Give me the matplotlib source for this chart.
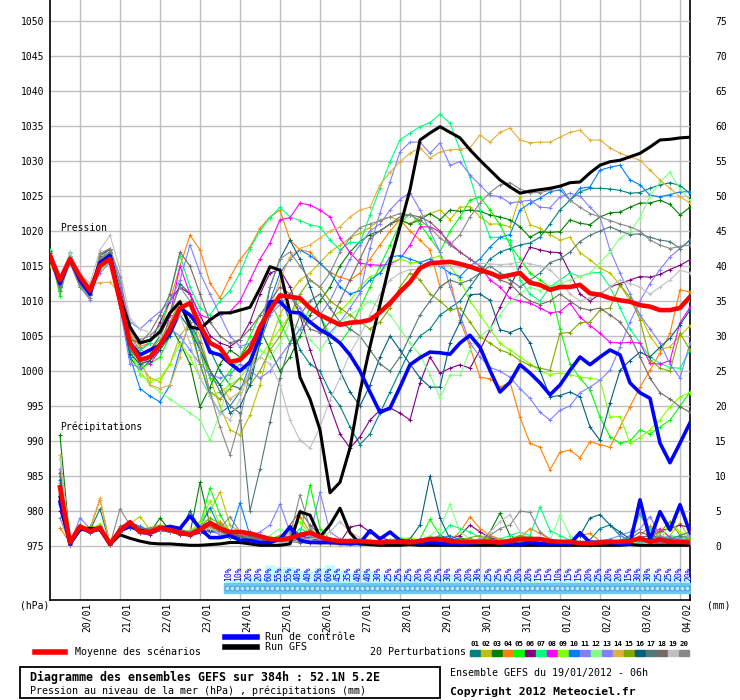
import numpy as np
import matplotlib.pyplot as plt
from matplotlib.patches import Rectangle
from matplotlib.lines import Line2D
import matplotlib.transforms as mtransforms

plt.rcParams['font.family'] = ['DejaVu Sans Mono', 'DejaVu Sans']

# pas de 6h depuis le 19/01/2012 06h (0 .. 384h)
steps = np.arange(65)
dates = ['20/01', '21/01', '22/01', '23/01', '24/01', '25/01', '26/01', '27/01',
         '28/01', '29/01', '30/01', '31/01', '01/02', '02/02', '03/02', '04/02']
date_steps = list(range(3, 64, 4))

# probabilite de precipitations (%) a partir du pas 18
pct_steps = list(range(18, 65))
pct = [10, 10, 20, 20, 60, 55, 55, 40, 40, 50, 60, 45, 35, 40, 40,
       30, 25, 25, 25, 20, 20, 25, 30, 20, 20, 30, 25, 25, 25, 20, 20,
       15, 15, 10, 15, 15, 20, 25, 20, 20, 15, 30, 30, 25, 25, 20, 20]

# moyenne / controle / GFS : pression (hPa)
mean_p = [1016.5, 1013.0, 1016.0, 1013.5, 1011.5, 1015.0, 1016.0, 1010.0, 1004.0, 1001.6,
          1002.0, 1003.7, 1006.0, 1009.0, 1009.7, 1006.5, 1004.0, 1003.3, 1001.3, 1001.6,
          1003.0, 1006.3, 1008.7, 1010.8, 1010.6, 1010.4, 1009.0, 1008.0, 1007.3, 1006.6,
          1006.9, 1007.0, 1007.3, 1008.4, 1009.7, 1011.3, 1012.7, 1014.7, 1015.4, 1015.5,
          1015.6, 1015.3, 1014.9, 1014.4, 1014.0, 1013.4, 1013.7, 1014.0, 1012.6, 1012.3,
          1011.6, 1012.0, 1012.0, 1012.3, 1011.1, 1010.9, 1010.4, 1010.1, 1009.9, 1009.4,
          1009.2, 1008.7, 1008.7, 1009.0, 1010.6]
ctrl_p = [1016.5, 1012.5, 1016.0, 1013.0, 1011.0, 1015.5, 1016.5, 1010.0, 1004.0, 1002.3,
          1003.0, 1003.7, 1005.4, 1009.0, 1008.0, 1006.3, 1002.7, 1002.3, 1001.1, 1000.0,
          1001.3, 1004.9, 1009.9, 1009.9, 1008.4, 1008.3, 1007.0, 1005.9, 1005.1, 1004.0,
          1002.3, 1000.0, 997.0, 994.1, 994.7, 997.7, 1000.9, 1001.9, 1002.7, 1002.6,
          1002.4, 1004.0, 1005.1, 1003.4, 1000.1, 997.0, 998.4, 1000.9, 999.7, 998.3,
          996.6, 998.0, 1000.1, 1002.0, 1000.9, 1002.0, 1003.0, 1002.3, 998.3, 996.9,
          996.1, 989.7, 986.9, 989.7, 992.6]
gfs_p = [1016.5, 1012.5, 1016.0, 1013.0, 1011.5, 1015.5, 1016.5, 1010.5, 1006.3, 1004.0,
         1004.4, 1005.6, 1008.3, 1009.9, 1006.3, 1006.0, 1007.3, 1008.3, 1008.3, 1008.7,
         1009.1, 1011.8, 1014.9, 1014.4, 1008.3, 999.1, 996.0, 991.6, 982.6, 984.1,
         989.0, 997.0, 1003.5, 1009.5, 1015.5, 1020.6, 1025.9, 1033.0, 1034.0, 1034.9,
         1034.1, 1033.3, 1031.6, 1030.1, 1028.7, 1027.3, 1026.3, 1025.4, 1025.7, 1025.9,
         1026.1, 1026.4, 1026.9, 1027.0, 1028.3, 1029.4, 1029.9, 1030.1, 1030.6, 1031.1,
         1032.0, 1033.0, 1033.1, 1033.3, 1033.4]

# precipitations (mm), pas 1 .. 64
mean_r = [8.4, 0.5, 2.8, 2.1, 2.6, 0.3, 2.2, 3.4, 2.0, 2.0,
          2.6, 2.3, 1.9, 1.6, 2.3, 3.3, 2.5, 2.0, 2.0, 1.8,
          1.4, 1.0, 0.9, 1.1, 1.6, 1.9, 1.3, 0.9, 0.7, 0.7,
          0.7, 0.6, 0.5, 0.6, 0.6, 0.5, 0.7, 1.0, 1.0, 0.7,
          0.6, 0.6, 0.6, 0.6, 0.5, 0.7, 1.0, 1.0, 1.0, 0.7,
          0.6, 0.6, 0.4, 0.4, 0.5, 0.6, 0.6, 0.7, 1.1, 0.6,
          0.9, 0.6, 0.6, 0.5]
ctrl_r = [6.3, 0.3, 2.5, 2.2, 2.4, 0.2, 2.2, 2.8, 2.2, 2.0,
          2.5, 2.8, 2.5, 4.3, 2.5, 1.2, 1.2, 1.5, 0.8, 0.8,
          0.5, 0.5, 1.0, 2.7, 0.8, 0.5, 0.5, 0.5, 0.4, 0.3,
          0.4, 2.2, 1.0, 2.0, 0.8, 0.6, 0.4, 0.5, 0.4, 0.3,
          0.3, 0.4, 0.5, 0.6, 0.4, 0.3, 0.2, 0.5, 0.3, 0.3,
          0.3, 0.3, 1.9, 0.5, 0.5, 0.5, 0.3, 0.3, 6.6, 0.9,
          4.9, 2.3, 5.9, 1.9]
gfs_r = [7.0, 0.3, 2.3, 2.5, 2.5, 0.2, 1.6, 1.1, 0.7, 0.4,
         0.3, 0.3, 0.2, 0.1, 0.1, 0.2, 0.3, 0.5, 0.5, 0.3,
         0.1, 0.1, 0.1, 0.3, 4.9, 4.4, 1.3, 3.0, 5.4, 1.9,
         0.3, 0.2, 0.1, 0.1, 0.1, 0.2, 0.1, 0.1, 0.1, 0.1,
         0.1, 0.1, 0.1, 0.1, 0.1, 0.1, 0.1, 0.1, 0.1, 0.1,
         0.1, 0.1, 0.1, 0.1, 0.1, 0.1, 0.1, 0.2, 0.1, 0.1,
         0.1, 0.1, 0.1, 0.1]

# 20 perturbations : pression
p01 = [1016.8, 1012.0, 1016.5, 1012.5, 1011.0, 1015.5, 1016.8, 1010.0,
       1004.0, 1002.5, 1003.0, 1005.0, 1008.0, 1012.5, 1011.0, 1006.0, 1003.0, 1000.0, 998.0, 997.5, 999.0,
       1004.0, 1008.0, 1011.0, 1007.0, 1003.0, 1001.0, 1000.0, 997.0, 995.0, 992.0, 989.5, 991.0,
       994.0, 997.0, 1000.0, 1003.0, 1005.0, 1006.0, 1008.0, 1009.0, 1010.0, 1012.0, 1014.0, 1016.0,
       1017.0, 1017.5, 1018.0, 1018.3, 1019.1, 1021.0, 1023.0, 1024.4, 1025.6, 1026.1, 1026.1, 1026.0,
       1025.8, 1025.4, 1025.5, 1026.1, 1026.6, 1026.9, 1026.5, 1025.4]
p02 = [1016.3, 1012.8, 1016.2, 1013.5, 1011.5, 1015.0, 1016.0, 1011.0,
       1005.0, 1001.0, 999.0, 998.5, 1001.0, 1005.0, 1007.0, 1004.0, 999.0, 995.0, 991.6, 990.9, 993.7,
       998.0, 1004.0, 1008.0, 1011.0, 1013.0, 1014.0, 1015.5, 1017.0, 1018.0, 1019.0, 1019.7, 1020.5,
       1021.6, 1022.0, 1021.5, 1021.0, 1022.0, 1022.5, 1023.0, 1021.6, 1023.4, 1023.5, 1022.0, 1021.0,
       1021.0, 1020.6, 1024.9, 1020.9, 1020.4, 1019.5, 1018.7, 1019.1, 1016.9, 1015.9, 1014.7, 1014.0,
       1012.3, 1010.0, 1008.0, 1005.0, 1003.0, 1003.5, 1005.0, 1006.5]
p03 = [1017.2, 1011.5, 1016.8, 1012.0, 1011.5, 1016.0, 1017.0, 1009.5,
       1002.0, 1000.0, 1001.5, 1004.0, 1006.5, 1004.0, 1001.0, 994.9, 997.7, 1001.0, 1003.0, 1002.0, 1004.0,
       1006.0, 1003.0, 1000.0, 1002.0, 1005.0, 1008.0, 1010.0, 1012.0, 1015.0, 1017.0, 1018.5, 1019.5,
       1020.0, 1021.0, 1021.6, 1021.0, 1021.6, 1022.5, 1021.6, 1023.0, 1022.8, 1023.0, 1022.8, 1022.3,
       1022.0, 1021.6, 1020.6, 1019.1, 1019.9, 1019.8, 1019.9, 1021.6, 1021.1, 1020.9, 1022.0, 1022.6,
       1022.7, 1023.4, 1024.0, 1024.0, 1024.4, 1023.8, 1022.3, 1023.4]
p04 = [1016.0, 1012.5, 1015.8, 1013.5, 1012.0, 1015.5, 1016.5, 1011.5,
       1005.5, 1003.5, 1004.0, 1006.0, 1010.0, 1015.0, 1019.4, 1017.3, 1012.6, 1010.4, 1013.4, 1015.9, 1017.7,
       1020.4, 1022.0, 1023.0, 1018.7, 1017.3, 1017.0, 1015.4, 1014.1, 1013.4, 1013.0, 1014.0, 1016.0,
       1018.0, 1020.0, 1021.6, 1020.0, 1018.7, 1017.3, 1012.0, 1013.0, 1007.3, 1003.4, 999.1, 998.9,
       997.7, 998.4, 993.4, 989.7, 989.1, 985.9, 988.4, 988.7, 987.6, 989.9, 989.5, 989.1,
       992.0, 994.9, 997.7, 1000.1, 1002.6, 1005.4, 1011.6, 1011.3]
p05 = [1017.0, 1010.7, 1016.5, 1012.0, 1010.5, 1016.0, 1017.0, 1012.0,
       1003.0, 1000.5, 1001.0, 1002.0, 1005.0, 1009.0, 1007.0, 1003.0, 999.0, 998.0, 1000.0, 1002.0, 1005.0,
       1008.0, 1010.0, 1007.0, 1004.0, 1006.0, 1009.0, 1008.0, 1005.0, 1004.0, 1006.0, 1009.0, 1012.0,
       1015.0, 1018.0, 1021.0, 1022.5, 1021.0, 1019.0, 1017.0, 1020.0, 1022.0, 1024.4, 1024.9, 1023.0,
       1020.9, 1018.0, 1016.0, 1014.0, 1013.0, 1012.0, 1006.0, 1001.0, 999.0, 997.3, 993.4, 990.6,
       989.7, 990.0, 991.6, 991.0, 992.0, 993.0, 995.0, 997.0]
p06 = [1016.5, 1013.0, 1016.0, 1013.5, 1011.0, 1016.5, 1017.5, 1012.5,
       1005.0, 1003.0, 1004.0, 1007.0, 1010.0, 1012.0, 1011.0, 1008.0, 1005.0, 1004.0, 1003.5, 1004.5, 1007.0,
       1011.0, 1014.0, 1014.5, 1012.0, 1008.0, 1003.0, 999.0, 995.0, 991.0, 989.0, 990.6, 993.0,
       994.4, 994.7, 994.0, 993.0, 998.3, 1002.0, 999.7, 1000.4, 1000.9, 1000.4, 1003.0, 1005.9,
       1009.1, 1012.0, 1015.0, 1017.7, 1017.3, 1017.0, 1016.9, 1014.0, 1011.0, 1010.0, 1011.0, 1012.0,
       1012.5, 1013.0, 1013.5, 1013.4, 1013.8, 1014.5, 1015.1, 1015.9]
p07 = [1017.3, 1011.5, 1017.0, 1012.5, 1011.0, 1015.0, 1016.0, 1011.0,
       1005.0, 1003.0, 1004.0, 1006.0, 1011.0, 1016.5, 1012.0, 1009.0, 1008.0, 1010.0, 1011.5, 1014.0, 1017.5,
       1020.0, 1021.9, 1023.4, 1022.0, 1021.5, 1020.9, 1020.6, 1018.7, 1017.3, 1018.4, 1018.3, 1022.3,
       1026.1, 1029.9, 1033.0, 1034.0, 1034.9, 1035.5, 1036.7, 1035.4, 1031.6, 1027.7, 1023.0, 1019.1,
       1019.1, 1018.7, 1013.0, 1011.0, 1010.0, 1012.0, 1013.0, 1014.0, 1013.5, 1014.0, 1014.1, 1012.0,
       1009.0, 1006.0, 1004.0, 1002.0, 1001.1, 1000.5, 1000.4, 1003.0]
p08 = [1016.5, 1013.5, 1016.0, 1013.0, 1011.5, 1015.5, 1016.0, 1011.5,
       1006.0, 1002.0, 1001.0, 1003.0, 1008.0, 1015.0, 1011.0, 1008.0, 1007.5, 1008.0, 1008.5, 1010.0, 1013.0,
       1016.0, 1018.3, 1021.6, 1021.9, 1024.0, 1023.7, 1023.0, 1022.0, 1019.0, 1016.9, 1015.4, 1015.2,
       1015.1, 1015.3, 1016.0, 1018.0, 1020.6, 1020.6, 1019.9, 1018.3, 1017.0, 1016.0, 1015.0, 1013.0,
       1012.0, 1010.4, 1010.0, 1009.7, 1009.0, 1008.3, 1008.5, 1009.7, 1007.7, 1006.5, 1005.4, 1004.1,
       1004.0, 1004.1, 1004.0, 1001.1, 1001.0, 1001.5, 1006.9, 1009.1]
p09 = [1016.0, 1012.0, 1015.5, 1012.5, 1011.0, 1014.5, 1015.5, 1010.5,
       1003.0, 999.5, 998.5, 999.0, 1001.0, 1004.0, 1002.0, 999.0, 996.5, 997.0, 998.0, 999.0, 1001.0,
       1002.0, 1004.0, 1006.0, 1008.0, 1010.0, 1009.0, 1008.0, 1007.5, 1008.5, 1010.0, 1012.0, 1013.5,
       1014.0, 1015.5, 1016.0, 1015.5, 1015.5, 1016.0, 1016.5, 1015.0, 1013.0, 1010.0, 1008.0, 1006.0,
       1004.0, 1003.0, 1002.0, 1001.0, 1000.0, 999.5, 999.7, 999.5, 999.1, 999.0, 998.7, 993.4,
       993.5, 989.7, 990.5, 991.6, 993.0, 994.9, 996.3, 996.9]
p10 = [1016.2, 1012.2, 1016.0, 1012.5, 1010.8, 1015.8, 1016.5, 1011.0,
       1002.0, 997.5, 996.4, 995.6, 998.0, 1003.0, 1007.0, 1001.0, 996.5, 994.0, 995.0, 997.0, 1001.0,
       1006.0, 1010.0, 1014.0, 1016.0, 1017.3, 1016.5, 1015.4, 1014.0, 1012.0, 1011.0, 1011.5, 1013.0,
       1014.0, 1016.3, 1016.5, 1016.0, 1015.5, 1016.0, 1015.0, 1014.0, 1013.5, 1015.0, 1016.0, 1017.7,
       1019.1, 1019.5, 1023.0, 1024.0, 1024.7, 1025.6, 1025.9, 1024.4, 1026.1, 1026.3, 1028.7, 1029.1,
       1029.4, 1027.3, 1026.6, 1025.1, 1024.9, 1025.2, 1025.6, 1025.6]
p11 = [1016.0, 1013.0, 1015.5, 1012.0, 1010.2, 1016.0, 1017.5, 1012.5,
       1007.0, 1006.0, 1007.3, 1008.5, 1010.0, 1013.0, 1018.0, 1014.0, 1011.0, 1008.0, 1005.0, 1003.5, 1004.0,
       1006.0, 1008.0, 1009.5, 1011.0, 1009.0, 1007.0, 1006.0, 1005.5, 1007.0, 1009.0, 1011.1, 1017.6,
       1022.6, 1027.0, 1031.3, 1032.7, 1032.7, 1031.1, 1032.6, 1029.4, 1029.9, 1028.0, 1026.6, 1025.1,
       1024.9, 1024.0, 1024.2, 1024.4, 1023.4, 1023.3, 1024.9, 1025.4, 1025.0, 1023.4, 1022.0, 1017.3,
       1014.0, 1011.0, 1008.0, 1006.0, 1004.0, 1001.0, 999.0, 1004.0]
p12 = [1016.8, 1012.0, 1016.2, 1013.3, 1011.8, 1015.0, 1016.0, 1010.0,
       1003.5, 1000.0, 998.0, 997.0, 996.0, 995.0, 994.0, 993.0, 990.1, 994.0, 999.0, 1002.0, 1002.5,
       1003.0, 1002.0, 1004.0, 1007.0, 1006.0, 1004.5, 1003.0, 1005.0, 1007.0, 1008.0, 1009.0, 1010.0,
       1009.0, 1008.0, 1006.0, 1004.0, 1002.3, 999.5, 996.1, 999.4, 999.4, 1003.0, 1005.0, 1006.0,
       1008.0, 1010.0, 1011.0, 1012.0, 1011.5, 1012.0, 1012.5, 1013.0, 1013.5, 1014.0, 1015.5, 1017.0,
       1019.0, 1019.9, 1021.9, 1025.0, 1027.0, 1028.4, 1026.0, 1024.4]
p13 = [1016.3, 1012.3, 1016.5, 1013.0, 1011.5, 1014.0, 1015.5, 1009.0,
       1001.0, 1000.5, 1002.0, 1004.0, 1006.0, 1005.0, 1003.0, 1001.0, 999.5, 999.0, 999.5, 1001.0, 1000.0,
       999.0, 1000.0, 1002.0, 1004.0, 1006.0, 1007.0, 1008.0, 1010.0, 1013.0, 1016.0, 1018.0, 1020.0,
       1021.0, 1023.0, 1024.5, 1025.5, 1023.0, 1020.0, 1017.0, 1012.0, 1008.0, 1004.0, 1002.0, 1000.5,
       1000.0, 999.1, 997.5, 996.1, 994.1, 993.0, 994.4, 995.0, 996.9, 997.7, 998.7, 1000.1,
       1003.4, 1007.0, 1010.0, 1012.5, 1014.5, 1016.3, 1017.5, 1018.7]
p14 = [1015.0, 1013.0, 1015.5, 1013.5, 1012.5, 1012.6, 1012.7, 1011.0,
       1006.0, 1002.0, 998.0, 997.5, 998.0, 1002.0, 1008.0, 1005.0, 1000.0, 998.0, 996.0, 997.0, 1000.0,
       1004.0, 1009.0, 1013.0, 1016.3, 1017.5, 1018.0, 1019.0, 1020.0, 1020.6, 1022.0, 1023.0, 1023.4,
       1026.6, 1028.4, 1029.9, 1031.1, 1031.9, 1030.4, 1031.3, 1031.6, 1031.7, 1031.9, 1033.7, 1032.7,
       1034.1, 1034.7, 1033.0, 1032.6, 1032.7, 1032.7, 1033.4, 1034.1, 1034.4, 1033.0, 1033.0, 1031.9,
       1031.1, 1030.6, 1030.1, 1028.7, 1027.3, 1026.1, 1024.9, 1024.0]
p15 = [1016.6, 1012.7, 1016.0, 1013.2, 1011.2, 1015.8, 1016.8, 1010.5,
       1004.0, 1002.0, 1003.0, 1004.5, 1007.0, 1010.0, 1006.0, 1001.0, 997.0, 996.0, 997.5, 999.0, 998.0,
       1000.0, 1003.0, 1005.0, 1008.0, 1011.0, 1013.0, 1012.0, 1010.0, 1009.0, 1008.0, 1007.0, 1006.0,
       1007.0, 1009.0, 1012.0, 1014.0, 1013.0, 1011.0, 1010.0, 1008.7, 1009.0, 1007.0, 1004.9, 1004.0,
       1003.0, 1002.5, 1001.5, 1000.8, 1000.4, 1000.1, 1005.4, 1005.5, 1006.9, 1007.0, 1008.7, 1009.0,
       1012.3, 1010.5, 1007.3, 1001.6, 1000.4, 1000.0, 1005.4, 1003.0]
p16 = [1016.0, 1012.0, 1016.3, 1012.8, 1011.0, 1015.2, 1016.2, 1010.0,
       1002.5, 1001.0, 1001.5, 1003.0, 1005.0, 1008.0, 1006.0, 1003.0, 1000.0, 998.0, 994.0, 995.0, 998.0,
       1004.0, 1012.0, 1016.0, 1018.7, 1016.0, 1012.0, 1008.0, 1004.0, 1000.0, 997.0, 995.0, 998.0,
       1002.0, 1005.0, 1003.0, 1001.0, 999.0, 997.7, 997.7, 1004.0, 1007.0, 1010.9, 1011.0, 1010.1,
       1005.9, 1005.5, 1006.1, 1004.0, 1000.0, 996.3, 996.5, 997.0, 996.3, 992.0, 990.1, 995.4,
       1000.1, 1001.5, 1002.7, 1002.0, 1003.4, 1004.7, 1006.6, 1008.7]
p17 = [1016.4, 1012.4, 1015.8, 1012.3, 1010.8, 1015.3, 1017.0, 1011.0,
       1003.0, 1001.5, 1002.0, 1004.0, 1006.0, 1009.0, 1007.0, 1004.0, 1000.0, 997.0, 995.0, 994.0, 980.0,
       986.0, 992.7, 999.0, 1004.0, 1008.0, 1010.0, 1011.0, 1009.0, 1007.0, 1006.0, 1005.0, 1003.0,
       1001.0, 1000.0, 1002.0, 1005.0, 1008.0, 1010.0, 1012.0, 1013.0, 1012.5, 1013.0, 1014.0, 1015.0,
       1014.0, 1013.0, 1012.0, 1013.0, 1014.0, 1015.5, 1016.0, 1017.0, 1018.5, 1019.4, 1020.0, 1020.6,
       1020.0, 1019.5, 1019.6, 1019.1, 1018.7, 1018.5, 1017.5, 1018.7]
p18 = [1016.9, 1012.2, 1016.3, 1012.7, 1011.0, 1016.5, 1017.3, 1010.5,
       1004.5, 1004.0, 1005.5, 1008.0, 1011.0, 1017.0, 1015.0, 1011.0, 1007.0, 1005.0, 1004.0, 1004.5, 1006.0,
       1008.0, 1010.0, 1012.0, 1011.0, 1008.0, 1006.0, 1005.5, 1007.0, 1010.0, 1013.0, 1016.0, 1019.0,
       1020.0, 1021.0, 1022.0, 1022.3, 1022.0, 1021.3, 1020.0, 1018.0, 1017.0, 1016.0, 1015.0, 1014.0,
       1013.0, 1012.5, 1011.0, 1010.0, 1009.5, 1010.0, 1011.0, 1010.0, 1009.0, 1008.7, 1009.0, 1008.0,
       1007.0, 1005.0, 1002.0, 999.0, 996.9, 996.0, 994.9, 994.1]
p19 = [1016.5, 1013.5, 1016.8, 1014.0, 1012.5, 1017.3, 1019.4, 1014.5,
       1007.5, 1006.0, 1005.5, 1005.0, 1006.0, 1008.0, 1004.0, 999.0, 996.5, 994.0, 993.0, 996.0, 1000.0,
       1002.0, 1001.0, 998.0, 993.0, 990.1, 989.0, 992.0, 995.9, 999.0, 1002.6, 1005.0, 1008.0,
       1011.0, 1013.0, 1014.0, 1014.5, 1014.5, 1015.0, 1015.2, 1015.0, 1014.8, 1015.0, 1015.4, 1015.3,
       1015.2, 1015.3, 1015.6, 1015.3, 1015.0, 1014.5, 1013.0, 1011.0, 1010.0, 1010.5, 1011.0, 1012.0,
       1013.0, 1012.5, 1012.0, 1011.0, 1012.0, 1013.0, 1014.4, 1014.0]
p20 = [1016.0, 1011.5, 1015.5, 1012.0, 1010.5, 1016.8, 1017.5, 1013.5,
       1006.0, 1004.5, 1005.0, 1006.5, 1008.5, 1012.0, 1010.0, 1003.0, 997.0, 992.0, 988.0, 993.0, 1000.0,
       1006.0, 1012.0, 1016.0, 1017.0, 1015.0, 1013.0, 1012.0, 1014.0, 1017.0, 1019.0, 1020.5, 1021.0,
       1021.5, 1022.0, 1022.5, 1022.3, 1021.5, 1020.5, 1019.0, 1018.0, 1019.5, 1022.0, 1024.0, 1025.5,
       1026.6, 1026.9, 1026.0, 1025.5, 1025.5, 1025.8, 1026.5, 1024.4, 1023.4, 1022.5, 1022.0, 1021.5,
       1021.0, 1020.6, 1020.0, 1018.7, 1018.0, 1017.5, 1017.8, 1018.0]

# 20 perturbations : precipitations (mm), pas 1 .. 64
r01 = [10.5, 0.3, 2.6, 2.2, 5.3, 0.2, 2.4, 3.0, 2.2, 2.0, 2.8, 2.4, 2.0, 1.8, 2.6, 3.0,
       2.2, 1.8, 1.5, 1.2, 0.9, 0.6, 0.8, 1.0, 1.4, 1.2, 0.9, 0.6, 0.5, 0.4, 0.3, 0.4,
       0.6, 0.8, 0.5, 0.4, 0.6, 0.9, 0.8, 0.5, 0.4, 0.6, 0.7, 0.5, 0.4, 0.3, 0.5, 0.8,
       0.7, 0.5, 0.4, 0.3, 0.4, 0.9, 2.5, 3.0, 1.5, 0.8, 0.6, 0.5, 0.4, 0.6, 0.8, 0.5]
r02 = [9.0, 0.4, 2.9, 2.0, 3.0, 0.3, 2.5, 3.2, 4.2, 2.3, 2.5, 2.2, 2.4, 1.9, 3.5, 5.0,
       7.7, 3.0, 2.0, 1.0, 0.8, 0.7, 0.6, 0.9, 1.3, 1.0, 0.7, 0.5, 0.6, 0.8, 0.5, 0.4,
       0.3, 0.5, 0.7, 0.6, 0.4, 0.5, 0.6, 1.0, 0.8, 0.6, 0.5, 1.5, 0.9, 0.6, 0.4, 0.3,
       0.5, 0.7, 0.6, 0.4, 0.3, 0.5, 0.6, 0.4, 0.3, 0.5, 0.8, 0.7, 0.5, 1.5, 3.3, 1.0]
r03 = [15.8, 0.5, 2.4, 2.6, 2.2, 0.1, 2.0, 2.7, 2.5, 1.9, 4.0, 2.2, 2.0, 1.8, 9.1, 3.0,
       1.5, 1.2, 0.8, 0.6, 0.4, 0.5, 0.7, 0.6, 1.0, 2.2, 1.5, 0.8, 0.4, 0.3, 0.2, 0.3,
       0.5, 0.4, 0.6, 0.8, 0.5, 0.4, 0.3, 0.6, 1.2, 0.8, 0.6, 2.0, 4.7, 1.5, 0.8, 0.6,
       0.5, 0.7, 0.5, 0.4, 0.3, 0.2, 0.4, 0.5, 0.3, 0.6, 0.8, 1.2, 0.7, 0.5, 0.4, 0.6]
r04 = [2.6, 0.4, 3.0, 2.4, 6.6, 0.2, 2.2, 2.9, 1.8, 2.0, 2.6, 2.4, 1.7, 2.3, 2.5, 2.8,
       3.5, 2.0, 1.4, 1.0, 0.8, 0.6, 1.1, 1.8, 4.2, 2.0, 1.0, 0.7, 0.5, 0.4, 0.6, 0.5,
       0.4, 0.3, 0.5, 0.4, 0.3, 0.6, 1.0, 0.8, 2.0, 4.2, 2.5, 1.5, 1.0, 0.8, 1.2, 2.5,
       1.8, 0.9, 0.6, 0.5, 1.5, 1.8, 0.7, 0.5, 0.4, 0.6, 1.5, 2.8, 1.2, 0.8, 1.0, 0.6]
r05 = [8.0, 0.3, 2.7, 2.3, 2.5, 0.3, 2.6, 3.5, 2.0, 2.4, 2.7, 2.5, 2.2, 1.6, 3.0, 8.3,
       4.5, 2.0, 1.2, 0.8, 0.6, 0.5, 0.6, 1.0, 1.5, 8.7, 2.5, 1.0, 0.6, 0.5, 0.4, 0.3,
       0.3, 0.4, 0.6, 0.5, 1.0, 3.8, 1.5, 0.8, 0.6, 1.0, 0.7, 0.5, 0.6, 0.8, 1.5, 1.0,
       0.6, 0.4, 0.3, 0.3, 0.4, 0.6, 0.5, 0.4, 0.3, 0.4, 0.5, 0.6, 0.8, 1.2, 0.7, 1.0]
r06 = [5.0, 0.2, 2.4, 1.8, 2.3, 0.1, 2.0, 3.0, 1.8, 1.6, 2.2, 2.0, 1.6, 1.5, 1.8, 2.2,
       1.8, 1.4, 2.2, 2.0, 1.5, 1.0, 1.2, 2.8, 1.6, 1.0, 0.8, 0.6, 0.5, 2.7, 3.0, 2.0,
       1.2, 0.8, 0.6, 0.5, 0.6, 0.9, 1.5, 1.0, 1.5, 3.0, 2.0, 1.2, 0.8, 0.6, 0.4, 0.5,
       0.6, 0.8, 0.6, 0.4, 0.3, 0.5, 0.4, 0.3, 0.5, 0.6, 0.4, 1.0, 2.2, 2.5, 3.0, 2.6]
r07 = [9.0, 0.3, 2.5, 2.6, 2.4, 0.2, 2.3, 3.0, 2.0, 2.1, 2.4, 2.6, 2.3, 1.9, 2.5, 3.2,
       2.4, 1.8, 1.4, 1.5, 1.0, 0.8, 0.7, 1.0, 2.5, 1.8, 1.0, 0.8, 0.6, 0.5, 0.4, 0.5,
       0.6, 0.8, 1.2, 0.9, 0.6, 0.8, 1.5, 3.0, 2.5, 2.0, 1.2, 0.8, 1.0, 1.5, 2.0, 1.5,
       5.6, 2.2, 1.5, 0.8, 0.6, 0.5, 0.7, 0.6, 0.8, 1.5, 4.5, 2.5, 1.0, 1.5, 1.2, 1.0]
r08 = [6.0, 0.4, 2.6, 2.2, 2.8, 0.2, 2.6, 3.1, 2.3, 2.5, 2.3, 2.4, 2.1, 1.8, 2.8, 3.5,
       2.2, 1.6, 1.2, 1.0, 0.8, 1.2, 0.9, 0.7, 1.0, 1.3, 0.8, 0.6, 0.5, 0.4, 0.5, 0.4,
       0.3, 0.5, 0.6, 0.5, 0.4, 0.6, 0.8, 0.6, 0.5, 0.4, 0.6, 0.5, 0.4, 0.3, 0.5, 0.6,
       0.4, 0.3, 0.4, 0.5, 0.6, 0.4, 0.3, 0.5, 0.6, 0.8, 1.2, 1.5, 2.5, 1.2, 0.8, 0.9]
r09 = [8.0, 0.3, 2.8, 2.2, 3.2, 0.3, 2.4, 3.0, 2.6, 2.2, 2.5, 2.0, 1.9, 2.0, 3.0, 6.5,
       3.0, 1.5, 1.0, 0.8, 0.7, 0.6, 1.5, 2.5, 3.5, 1.6, 1.0, 0.8, 0.6, 0.5, 0.4, 0.5,
       0.7, 0.8, 1.0, 1.2, 0.8, 0.6, 0.5, 0.7, 1.0, 0.8, 0.6, 0.5, 0.6, 0.8, 1.0, 0.7,
       0.5, 0.4, 0.3, 0.4, 0.5, 0.6, 0.5, 0.4, 0.5, 0.6, 0.8, 0.7, 0.6, 3.5, 2.0, 1.0]
r10 = [10.0, 0.3, 2.7, 2.0, 2.4, 0.2, 2.2, 3.4, 2.8, 2.2, 2.6, 2.5, 2.2, 2.0, 2.7, 5.5,
       2.5, 1.6, 6.2, 1.5, 0.8, 0.6, 0.5, 1.2, 0.9, 0.7, 0.5, 0.4, 0.3, 0.3, 0.2, 0.3,
       0.4, 0.6, 0.8, 0.5, 0.4, 0.7, 1.0, 1.5, 0.8, 0.6, 0.5, 0.4, 0.6, 0.8, 0.5, 0.4,
       0.3, 0.5, 0.4, 0.3, 0.3, 0.4, 0.5, 0.6, 0.5, 0.4, 0.6, 0.5, 0.4, 0.5, 0.6, 0.5]
r11 = [6.5, 0.4, 4.0, 2.5, 2.6, 0.3, 2.4, 2.6, 2.2, 2.0, 2.2, 2.0, 1.8, 1.7, 2.0, 2.4,
       1.6, 1.3, 2.0, 1.8, 1.2, 0.9, 1.0, 1.2, 1.8, 1.4, 7.7, 2.0, 1.0, 0.8, 0.6, 0.5,
       0.7, 0.6, 0.5, 0.8, 1.0, 1.2, 0.8, 0.6, 0.5, 0.6, 0.8, 0.6, 0.5, 0.4, 0.5, 0.6,
       0.5, 0.4, 0.3, 0.4, 0.5, 0.6, 0.8, 1.0, 1.5, 2.0, 4.7, 1.5, 1.0, 0.8, 1.2, 1.5]
r12 = [7.0, 0.3, 2.6, 2.4, 2.5, 0.2, 2.5, 2.9, 2.1, 2.3, 2.4, 2.2, 2.0, 2.2, 3.2, 4.0,
       2.0, 1.5, 1.0, 0.8, 0.6, 1.5, 2.5, 1.5, 1.0, 0.8, 0.6, 0.5, 0.4, 0.3, 0.4, 0.6,
       0.8, 0.6, 0.4, 0.5, 0.8, 1.5, 2.5, 6.0, 2.0, 1.0, 0.8, 0.6, 0.5, 0.8, 1.2, 1.0,
       0.6, 0.8, 4.4, 1.5, 0.6, 0.4, 0.3, 0.4, 0.5, 0.6, 0.4, 0.5, 0.6, 0.8, 0.5, 0.4]
r13 = [11.0, 0.4, 2.7, 2.2, 2.5, 0.3, 2.5, 2.7, 2.3, 2.5, 2.5, 2.1, 2.0, 1.8, 2.4, 2.0,
       1.8, 1.4, 1.2, 1.5, 2.0, 3.0, 6.0, 2.0, 1.2, 0.9, 0.7, 0.6, 0.5, 0.4, 0.5, 0.4,
       0.6, 0.5, 0.4, 0.6, 0.8, 1.0, 0.6, 0.5, 0.4, 0.5, 0.6, 0.5, 0.4, 0.3, 0.4, 0.5,
       0.4, 0.3, 0.4, 0.5, 0.6, 0.8, 0.6, 0.5, 0.7, 1.5, 2.5, 4.2, 1.5, 1.0, 0.8, 0.6]
r14 = [13.0, 0.5, 2.8, 2.6, 6.8, 0.3, 2.4, 2.8, 2.4, 2.1, 2.4, 2.3, 2.0, 1.7, 2.2, 2.6,
       2.0, 1.5, 1.0, 0.7, 0.5, 0.4, 0.6, 0.8, 0.6, 0.4, 0.3, 0.3, 0.2, 0.3, 0.4, 0.3,
       0.2, 0.3, 0.4, 0.3, 0.2, 0.3, 0.4, 0.3, 0.2, 0.3, 0.4, 0.3, 0.2, 0.3, 0.4, 0.5,
       0.3, 0.2, 0.3, 0.4, 0.3, 0.2, 0.3, 0.4, 0.5, 0.6, 0.8, 0.6, 0.5, 0.4, 0.6, 0.5]
r15 = [8.5, 0.4, 2.5, 2.8, 2.6, 0.2, 2.6, 3.2, 2.4, 2.6, 3.0, 2.6, 2.3, 2.0, 2.8, 4.0,
       3.2, 1.8, 1.5, 1.0, 0.8, 1.0, 1.5, 1.2, 0.9, 1.0, 1.5, 1.0, 0.7, 0.5, 0.6, 0.8,
       0.6, 0.5, 0.4, 0.6, 0.8, 0.7, 0.5, 0.6, 0.8, 1.2, 1.5, 1.0, 0.8, 1.0, 1.5, 1.2,
       0.8, 0.6, 0.5, 0.7, 0.6, 0.5, 0.4, 0.5, 0.6, 0.8, 1.2, 1.5, 2.0, 3.5, 1.5, 1.0]
r16 = [9.5, 0.3, 3.0, 2.2, 2.7, 0.2, 2.3, 3.0, 2.5, 2.2, 2.5, 2.3, 2.0, 5.0, 2.5, 2.2,
       2.0, 1.6, 1.2, 1.0, 0.8, 0.6, 0.5, 0.7, 0.9, 0.6, 0.5, 0.4, 0.6, 0.8, 1.0, 0.6,
       0.5, 0.4, 0.5, 1.0, 3.0, 10.0, 4.0, 1.0, 0.6, 0.5, 0.4, 0.5, 0.6, 0.8, 1.0, 0.8,
       0.6, 0.5, 0.4, 0.6, 1.5, 4.0, 4.5, 3.0, 2.0, 1.0, 0.8, 0.6, 0.5, 0.4, 0.6, 0.5]
r17 = [7.5, 0.3, 2.4, 2.0, 2.3, 0.2, 2.0, 2.6, 2.1, 2.0, 2.2, 2.0, 1.8, 1.6, 2.0, 2.4,
       2.0, 1.6, 1.4, 1.5, 1.2, 1.0, 0.8, 0.6, 0.5, 0.4, 0.5, 0.6, 0.4, 0.3, 0.4, 0.5,
       0.6, 0.5, 0.4, 0.3, 0.4, 0.6, 0.8, 0.6, 0.5, 0.4, 0.5, 0.6, 0.4, 0.3, 0.4, 0.5,
       0.6, 0.5, 0.4, 0.5, 0.6, 0.5, 0.4, 0.6, 0.8, 1.0, 1.2, 1.5, 1.2, 1.0, 1.5, 2.0]
r18 = [10.5, 0.4, 2.6, 2.5, 2.7, 0.3, 2.8, 3.4, 2.6, 2.4, 2.6, 2.4, 2.2, 2.0, 2.4, 2.8,
       2.2, 1.8, 1.5, 1.2, 1.0, 0.8, 1.0, 3.0, 5.0, 3.0, 1.5, 1.0, 0.8, 0.6, 0.5, 0.4,
       0.5, 0.6, 0.5, 0.4, 0.6, 0.8, 0.6, 0.5, 0.6, 0.8, 1.0, 0.8, 0.6, 0.5, 0.6, 0.8,
       0.6, 0.5, 0.4, 0.5, 0.6, 0.5, 0.4, 0.5, 0.6, 1.0, 2.0, 1.5, 1.0, 0.8, 0.6, 0.5]
r19 = [12.5, 0.5, 2.5, 2.3, 2.4, 0.2, 2.4, 2.8, 2.2, 2.0, 2.3, 2.2, 2.0, 1.8, 2.2, 2.5,
       1.8, 1.4, 1.0, 0.8, 0.6, 0.5, 0.5, 0.6, 0.8, 1.0, 1.2, 2.0, 3.5, 2.0, 1.2, 0.8,
       0.6, 0.5, 0.6, 0.8, 0.6, 0.5, 0.6, 0.8, 0.6, 0.8, 1.0, 2.0, 3.5, 4.5, 2.0, 1.0,
       0.8, 0.6, 0.5, 0.4, 0.5, 0.6, 0.5, 0.4, 0.5, 0.6, 0.8, 0.6, 0.5, 0.6, 0.8, 0.6]
r20 = [4.0, 0.3, 2.8, 2.2, 2.6, 0.2, 5.3, 3.0, 2.2, 2.5, 2.6, 2.4, 2.1, 1.9, 2.4, 2.8,
       2.5, 4.2, 2.0, 1.0, 0.8, 0.6, 0.8, 1.5, 7.3, 2.5, 1.2, 0.8, 0.6, 0.5, 0.4, 0.5,
       0.6, 0.5, 0.4, 0.6, 0.8, 0.6, 0.5, 0.4, 0.5, 0.6, 0.8, 1.5, 2.5, 3.0, 5.0, 4.8,
       2.0, 1.0, 0.6, 0.5, 0.4, 0.5, 0.6, 0.5, 0.4, 0.6, 0.8, 0.6, 0.5, 0.4, 0.6, 0.5]

pert_pres = [p01, p02, p03, p04, p05, p06, p07, p08, p09, p10,
             p11, p12, p13, p14, p15, p16, p17, p18, p19, p20]
pert_rain = [r01, r02, r03, r04, r05, r06, r07, r08, r09, r10,
             r11, r12, r13, r14, r15, r16, r17, r18, r19, r20]
pert_colors = ['#008080', '#c0c000', '#008000', '#ff8000', '#00ff00',
               '#800080', '#00ff80', '#ff00ff', '#80ff00', '#0080ff',
               '#8080ff', '#80ff80', '#8080ff', '#e0b040', '#80a800',
               '#006080', '#507878', '#786868', '#c0c0c0', '#888888']

P0 = 975.0   # niveau 0 mm sur l'axe de pression


def fx(px):
    return px / 740.0


def fy(py):
    return 1 - py / 700.0


fig = plt.figure(figsize=(7.4, 7.0), dpi=100)
ax = fig.add_axes([fx(50), fy(600), 640 / 740, 600 / 700])
ax.set_xlim(0, 64)
ax.set_ylim(P0 - 54 / 7, P0 + 546 / 7)

ax.set_xticks(date_steps)
ax.set_xticklabels([])
ax.set_yticks(range(975, 1051, 5))
ax.grid(color='#c0c0c0', lw=1.0)
ax.tick_params(axis='both', length=0)
ax.tick_params(axis='y', labelsize=7, pad=4)
ax.spines['top'].set_visible(False)
ax.spines['right'].set_visible(False)
ax.spines['left'].set_linewidth(1.2)
ax.spines['bottom'].set_linewidth(1.2)

sec = ax.secondary_yaxis('right', functions=(lambda p: p - P0, lambda m: m + P0))
sec.set_yticks(range(0, 76, 5))
sec.tick_params(length=0, pad=18, labelsize=7)
sec.spines['right'].set_linewidth(1.2)

# dates
trans = mtransforms.blended_transform_factory(ax.transData, ax.transAxes)
for s, d in zip(date_steps, dates):
    ax.text(s + 0.7, -0.005, d, transform=trans, rotation=90, ha='center',
            va='top', fontsize=7)

# bande des probabilites de precipitations
ax.bar(pct_steps, [v * 0.3 / 7 for v in pct], bottom=P0 - 37 / 7, width=1.0,
       color='#c4ffff', zorder=1)
ax.fill_between([17.4, 64.5], P0 - 47 / 7, P0 - 37 / 7, color='#6ec8f0', zorder=1.6)
drops = np.arange(17.7, 64.5, 0.5)
ax.scatter(drops, np.full(len(drops), P0 - 42 / 7), s=13, marker='o',
           facecolor='#b4e8ff', edgecolor='#3c96dc', lw=0.6, zorder=1.7)
for s, v in zip(pct_steps, pct):
    ax.text(s - 0.15, P0 - 28 / 7, '%d%%' % v, rotation=90, ha='center',
            va='center', fontsize=5.8, color='#0000ff', zorder=4)

# perturbations
for pp, rr, c in zip(pert_pres, pert_rain, pert_colors):
    ax.plot(steps, pp, color=c, lw=0.8, marker='+', ms=3.2, mew=0.7, zorder=3)
    ax.plot(steps[1:], np.array(rr) + P0, color=c, lw=0.8, marker='+', ms=3.2,
            mew=0.7, zorder=3)

ax.plot(steps, gfs_p, color='black', lw=2.2, zorder=5)
ax.plot(steps[1:], np.array(gfs_r) + P0, color='black', lw=2.2, zorder=5)
ax.plot(steps, ctrl_p, color='#0000ff', lw=2.6, zorder=6)
ax.plot(steps[1:], np.array(ctrl_r) + P0, color='#0000ff', lw=2.6, zorder=6)
ax.plot(steps, mean_p, color='#ff0000', lw=3.3, zorder=7)
ax.plot(steps[1:], np.array(mean_r) + P0, color='#ff0000', lw=3.3, zorder=7)

fig.text(fx(60), fy(228), 'Pression', fontsize=7, va='center')
fig.text(fx(60), fy(427), 'Précipitations', fontsize=7, va='center')
fig.text(fx(20), fy(606), '(hPa)', fontsize=7, va='center')
fig.text(fx(707), fy(606), '(mm)', fontsize=7, va='center')

# legendes
fig.add_artist(Line2D([fx(35), fx(65)], [fy(652), fy(652)], color='#ff0000', lw=4))
fig.text(fx(75), fy(652), 'Moyenne des scénarios', fontsize=7.2, va='center')
fig.add_artist(Line2D([fx(225), fx(257)], [fy(637), fy(637)], color='#0000ff', lw=4))
fig.text(fx(265), fy(637), 'Run de contrôle', fontsize=7.2, va='center')
fig.add_artist(Line2D([fx(225), fx(257)], [fy(647), fy(647)], color='black', lw=4))
fig.text(fx(265), fy(647), 'Run GFS', fontsize=7.2, va='center')
fig.text(fx(370), fy(652), '20 Perturbations', fontsize=7.2, va='center')
for k, c in enumerate(pert_colors):
    x0 = 470 + 11 * k
    fig.add_artist(Rectangle((fx(x0), fy(656)), 10 / 740, 6 / 700, color=c,
                             transform=fig.transFigure))
    fig.text(fx(x0 + 5), fy(644), '%02d' % (k + 1), fontsize=5.3, ha='center',
             va='center', fontweight='bold')

fig.add_artist(Rectangle((fx(20), fy(698)), 420 / 740, 31 / 700, fill=False,
                         lw=1.3, ec='black', transform=fig.transFigure))
fig.text(fx(30), fy(677), 'Diagramme des ensembles GEFS sur 384h : 52.1N 5.2E',
         fontsize=8.4, fontweight='bold', va='center')
fig.text(fx(30), fy(691), 'Pression au niveau de la mer (hPa) , précipitations (mm)',
         fontsize=7.2, va='center')
fig.text(fx(450), fy(673), 'Ensemble GEFS du 19/01/2012 - 06h', fontsize=7.2, va='center')
fig.text(fx(450), fy(692), 'Copyright 2012 Meteociel.fr', fontsize=8.2,
         fontweight='bold', va='center')

fig.savefig('out.png', dpi=100)
